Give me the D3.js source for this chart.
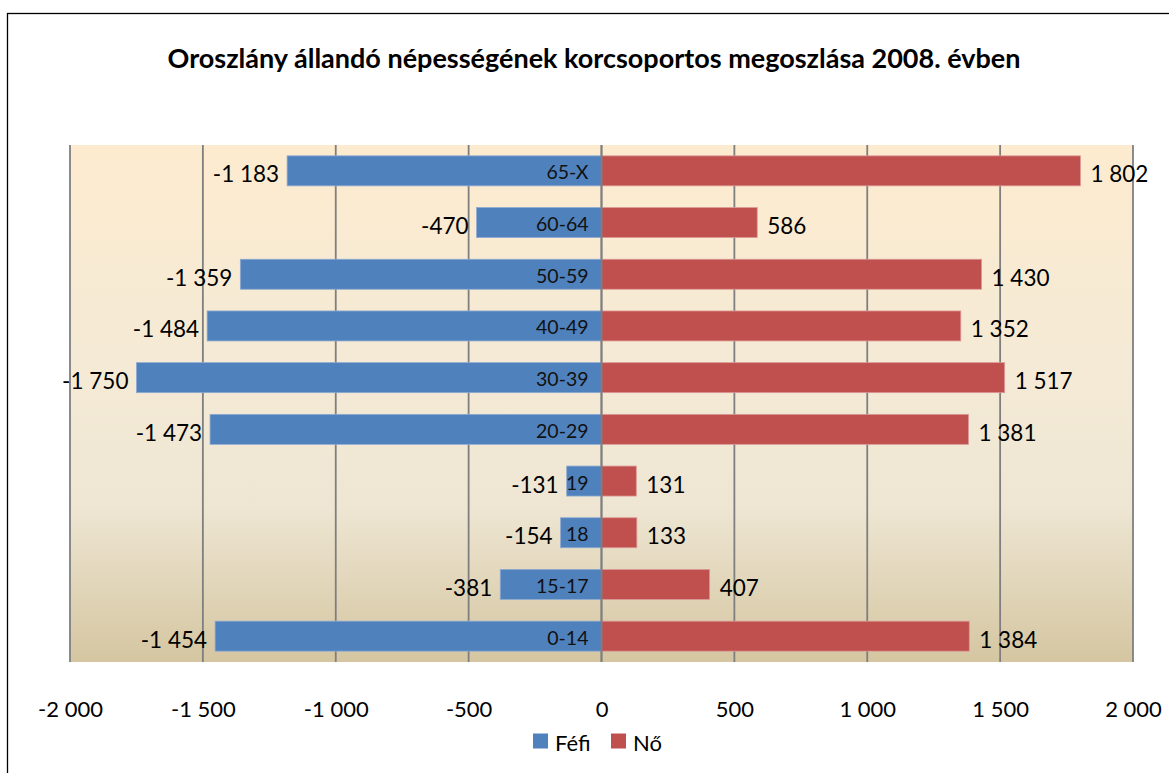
<!DOCTYPE html>
<html>
<head>
<meta charset="utf-8">
<script src="https://cdn.jsdelivr.net/npm/d3@7"></script>
<style>
  html, body { margin: 0; padding: 0; background: #fff; }
  svg { display: block; font-family: Lato, "Open Sans", sans-serif; }
</style>
</head>
<body>
<svg id="chart" width="1169" height="773"></svg>
<script>
// Age groups, top to bottom
const ageGroups = ["65-X", "60-64", "50-59", "40-49", "30-39", "20-29", "19", "18", "15-17", "0-14"];
// Men (shown as negative), women
const male = [-1183, -470, -1359, -1484, -1750, -1473, -131, -154, -381, -1454];
const female = [1802, 586, 1430, 1352, 1517, 1381, 131, 133, 407, 1384];
const xTicks = [-2000, -1500, -1000, -500, 0, 500, 1000, 1500, 2000];
const seriesNames = ["Féfi", "Nő"];
const colors = ["#4F81BD", "#C0504D"];
const title = "Oroszlány állandó népességének korcsoportos megoszlása 2008. évben";

const width = 1169;
const height = 773;
const plot = { left: 70, right: 1133, top: 145, bottom: 662 };

// Number format with space as thousands separator
const fmt = d3.formatLocale({ decimal: ",", thousands: " ", grouping: [3], currency: ["", ""], minus: "-" }).format(",d");

const svg = d3.select("#chart");

// Outer chart border
svg.append("rect")
    .attr("x", 7.5).attr("y", 13.5)
    .attr("width", width + 20).attr("height", height + 20)
    .attr("fill", "#fff")
    .attr("stroke", "#000")
    .attr("stroke-width", 1.3);

// Background gradient of the plot area
const grad = svg.append("defs").append("linearGradient")
    .attr("id", "bg").attr("x1", 0).attr("y1", 0).attr("x2", 0).attr("y2", 1);
grad.append("stop").attr("offset", "0%").attr("stop-color", "#FDEBCF");
grad.append("stop").attr("offset", "45%").attr("stop-color", "#F4EAD6");
grad.append("stop").attr("offset", "70%").attr("stop-color", "#EEE6D3");
grad.append("stop").attr("offset", "100%").attr("stop-color", "#D5C6A1");

// Scales
const x = d3.scaleLinear().domain([-2000, 2000]).range([plot.left, plot.right]);
const y = d3.scaleBand().domain(ageGroups).range([plot.top, plot.bottom]).paddingInner(0.42).paddingOuter(0.21);

svg.append("rect")
    .attr("x", plot.left).attr("y", plot.top)
    .attr("width", plot.right - plot.left).attr("height", plot.bottom - plot.top)
    .attr("fill", "url(#bg)");

// Title
svg.append("text")
    .attr("x", 594).attr("y", 57)
    .attr("text-anchor", "middle")
    .attr("dominant-baseline", "central")
    .attr("font-weight", "bold")
    .attr("font-size", 27)
    .attr("fill", "#000")
    .text(title);

// Vertical gridlines
svg.append("g")
    .selectAll("line")
    .data(xTicks)
    .join("line")
    .attr("x1", d => x(d)).attr("x2", d => x(d))
    .attr("y1", plot.top).attr("y2", plot.bottom)
    .attr("stroke", "#7F7F7F")
    .attr("stroke-width", 1.8);

// X axis labels
const xAxis = svg.append("g")
    .attr("transform", `translate(0,${plot.bottom + 36})`)
    .call(d3.axisBottom(x).tickValues(xTicks).tickFormat(fmt).tickSize(0));
xAxis.select(".domain").remove();
xAxis.selectAll("text")
    .attr("font-family", "Lato, sans-serif")
    .attr("font-size", 22)
    .attr("fill", "#000");

// Bars
const rows = ageGroups.map((g, i) => ({ group: g, male: male[i], female: female[i] }));

svg.append("g")
    .selectAll("rect")
    .data(rows)
    .join("rect")
    .attr("x", d => x(d.male))
    .attr("y", d => y(d.group))
    .attr("width", d => x(0) - x(d.male))
    .attr("height", y.bandwidth())
    .attr("fill", colors[0])
    .attr("stroke", "#8EAAD3")
    .attr("stroke-width", 0.8);

svg.append("g")
    .selectAll("rect")
    .data(rows)
    .join("rect")
    .attr("x", x(0))
    .attr("y", d => y(d.group))
    .attr("width", d => x(d.female) - x(0))
    .attr("height", y.bandwidth())
    .attr("fill", colors[1])
    .attr("stroke", "#DB9A98")
    .attr("stroke-width", 0.8);

// Zero line on top of bars
svg.append("line")
    .attr("x1", x(0)).attr("x2", x(0))
    .attr("y1", plot.top).attr("y2", plot.bottom)
    .attr("stroke", "#7F7F7F")
    .attr("stroke-width", 1.8);

// Category labels inside the male bars
svg.append("g")
    .selectAll("text")
    .data(rows)
    .join("text")
    .attr("x", x(0) - 13)
    .attr("y", d => y(d.group) + y.bandwidth() / 2 + 1)
    .attr("text-anchor", "end")
    .attr("dominant-baseline", "central")
    .attr("font-size", 19.5)
    .attr("fill", "#111")
    .text(d => d.group);

// Value labels
svg.append("g")
    .selectAll("text")
    .data(rows)
    .join("text")
    .attr("x", d => x(d.male) - 8)
    .attr("y", d => y(d.group) + y.bandwidth() / 2 + 3)
    .attr("text-anchor", "end")
    .attr("dominant-baseline", "central")
    .attr("font-size", 22.5)
    .attr("fill", "#000")
    .text(d => fmt(d.male));

svg.append("g")
    .selectAll("text")
    .data(rows)
    .join("text")
    .attr("x", d => x(d.female) + 10)
    .attr("y", d => y(d.group) + y.bandwidth() / 2 + 3)
    .attr("text-anchor", "start")
    .attr("dominant-baseline", "central")
    .attr("font-size", 22.5)
    .attr("fill", "#000")
    .text(d => fmt(d.female));

// Legend
const legend = svg.append("g").attr("transform", "translate(533,741)");
const legendX = [0, 78];
seriesNames.forEach((name, i) => {
    const item = legend.append("g").attr("transform", `translate(${legendX[i]},0)`);
    item.append("rect")
        .attr("x", 0).attr("y", -7.5)
        .attr("width", 15).attr("height", 15)
        .attr("fill", colors[i]);
    item.append("text")
        .attr("x", 22).attr("y", 1)
        .attr("dominant-baseline", "central")
        .attr("font-size", 22)
        .attr("fill", "#000")
        .text(name);
});
</script>
</body>
</html>
